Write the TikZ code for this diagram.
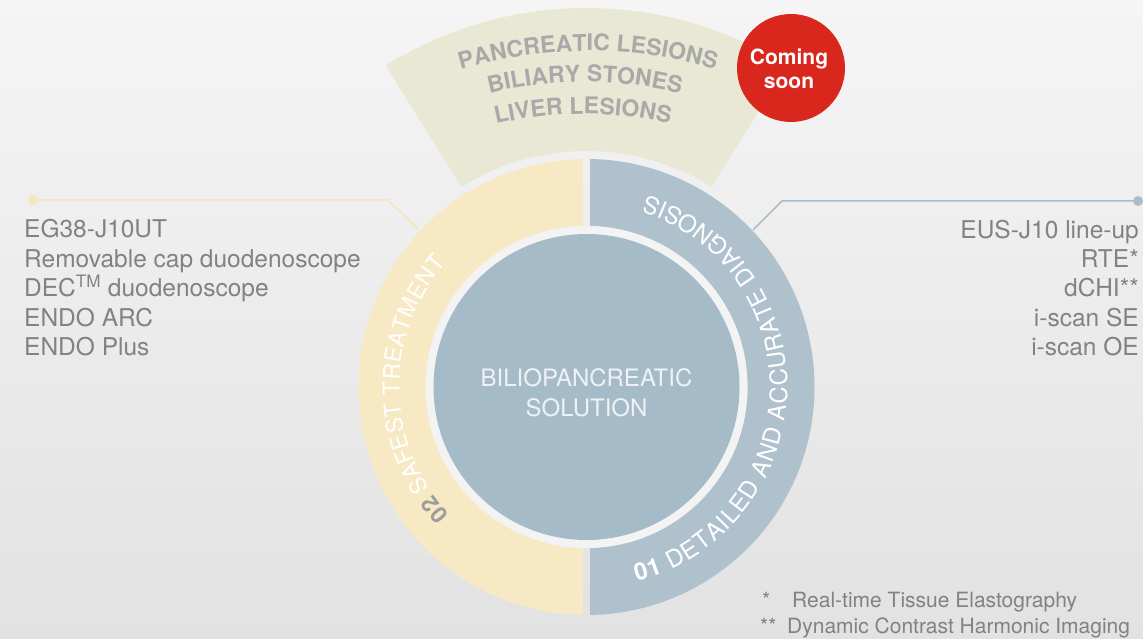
\documentclass[tikz,border=0pt]{standalone}
\usepackage{fontspec}
\setmainfont{TeX Gyre Heros}
\usetikzlibrary{decorations.text,calc}
\definecolor{bgtop}{HTML}{F5F5F5}
\definecolor{bgbot}{HTML}{E2E2E2}
\definecolor{yel}{HTML}{F7E9C4}
\definecolor{ringblue}{HTML}{AFC1CD}
\definecolor{disc}{HTML}{A6BBC8}
\definecolor{halo}{HTML}{F3F3F3}
\definecolor{band}{HTML}{E8E8D5}
\definecolor{bandtxt}{HTML}{A9A9A9}
\definecolor{redc}{HTML}{D9271D}
\definecolor{txt}{HTML}{828282}
\definecolor{num}{HTML}{9C9C9C}
\definecolor{yline}{HTML}{F5E6BC}
\definecolor{bline}{HTML}{A9BCCA}
\definecolor{centertxt}{HTML}{EEF2F5}
\begin{document}
\begin{tikzpicture}[x=1pt,y=1pt,
  listtxt/.style={text=txt, font=\fontsize{24.5}{24.5}\selectfont, inner sep=0pt},
  foot/.style={text=txt, font=\fontsize{21}{21}\selectfont, inner sep=0pt, anchor=base west},
  dotnode/.style={circle, minimum size=10pt, inner sep=0pt},
  conn/.style={line width=1.5pt},
  ctxt/.style={text=centertxt, font=\fontsize{24}{24}\selectfont, inner sep=0pt, anchor=base},
  soontxt/.style={text=white, font=\fontsize{21}{21}\selectfont\bfseries, inner sep=0pt, anchor=base}
]
\useasboundingbox (0,0) rectangle (1143,638);
\shade[top color=bgtop,bottom color=bgbot] (0,0) rectangle (1143,638);
\coordinate (C) at (586.5,251);
% top band
\fill[band] ($(C)+(58:236)$) arc[start angle=58,end angle=122,radius=236]
  -- ($(C)+(122:379)$) arc[start angle=122,end angle=58,radius=379] -- cycle;
% band texts
\path[decorate,decoration={text along path, text align=center, text color=bandtxt,
  text={|\fontsize{23}{23}\selectfont\bfseries|PANCREATIC LESIONS}}]
  ($(588,137)+(110:450)$) arc[start angle=110,end angle=70,radius=450];
\path[decorate,decoration={text along path, text align=center, text color=bandtxt,
  text={|\fontsize{23}{23}\selectfont\bfseries|BILIARY STONES}}]
  ($(585,156)+(107:400)$) arc[start angle=107,end angle=73,radius=400];
\path[decorate,decoration={text along path, text align=center, text color=bandtxt,
  text={|\fontsize{23}{23}\selectfont\bfseries|LIVER LESIONS}}]
  ($(583,144)+(106:380)$) arc[start angle=106,end angle=74,radius=380];
% ring halves
\begin{scope}
  \clip (0,0) rectangle (583,638);
  \fill[yel,even odd rule] (C) circle[radius=228] (C) circle[radius=161];
\end{scope}
\begin{scope}
  \clip (590,0) rectangle (1143,638);
  \fill[ringblue,even odd rule] (C) circle[radius=228] (C) circle[radius=161];
\end{scope}
\fill[halo] (C) circle[radius=161];
\node[circle, fill=disc, minimum size=306pt, inner sep=0pt] (disc) at (C) {};
\node[ctxt] (bilio) at (586.5,252) {BILIOPANCREATIC};
\node[ctxt] (solution) at (586.5,222) {SOLUTION};
% ring texts
\path[decorate,decoration={text along path, text align=fit to path,
  text={|\fontsize{23}{23}\selectfont\bfseries\color{num}|02|\fontsize{23}{23}\selectfont\color{white}| SAFEST TREATMENT}}]
  ($(C)+(223:187)$) arc[start angle=223,end angle=138.5,radius=187];
\path[decorate,decoration={text along path, text align=fit to path,
  text={|\fontsize{24}{24}\selectfont\bfseries\color{white}|01|\fontsize{24}{24}\selectfont\color{white}| DETAILED AND ACCURATE DIAGNOSIS}}]
  ($(C)+(-75.5:201)$) arc[start angle=-75.5,end angle=72.5,radius=201];
% coming soon
\node[circle, fill=redc, minimum size=108pt, inner sep=0pt] (soon) at (791,570) {};
\node[soontxt] (coming) at (789,573) {Coming};
\node[soontxt] (soonw) at (789,549) {soon};
% connectors
\node[dotnode, fill=yline] (ldot) at (33,438) {};
\coordinate (lcorner) at (388,438);
\coordinate (lend) at (418,409);
\draw[conn, yline] (ldot.center) -- (lcorner) -- (lend);
\node[dotnode, fill=bline] (rdot) at (1138,437) {};
\coordinate (rcorner) at (782,437);
\coordinate (rend) at (753,408);
\draw[conn, bline] (rdot.center) -- (rcorner) -- (rend);
% left list
\node[listtxt, anchor=base west] (l1) at (24,400) {EG38-J10UT};
\node[listtxt, anchor=base west] (l2) at (24,370) {Removable cap duodenoscope};
\node[listtxt, anchor=base west] (l3) at (24,341) {DEC\textsuperscript{TM} duodenoscope};
\node[listtxt, anchor=base west] (l4) at (24,311) {ENDO ARC};
\node[listtxt, anchor=base west] (l5) at (24,282) {ENDO Plus};
% right list
\node[listtxt, anchor=base east] (r1) at (1139,399) {EUS-J10 line-up};
\node[listtxt, anchor=base east] (r2) at (1139,370) {RTE*};
\node[listtxt, anchor=base east] (r3) at (1139,341) {dCHI**};
\node[listtxt, anchor=base east] (r4) at (1139,311) {i-scan SE};
\node[listtxt, anchor=base east] (r5) at (1139,282) {i-scan OE};
% footnotes
\node[foot] (f1s) at (762,31) {*};
\node[foot] (f1) at (792,31) {Real-time Tissue Elastography};
\node[foot] (f2s) at (760,5) {**};
\node[foot] (f2) at (787,5) {Dynamic Contrast Harmonic Imaging};
\end{tikzpicture}
\end{document}
